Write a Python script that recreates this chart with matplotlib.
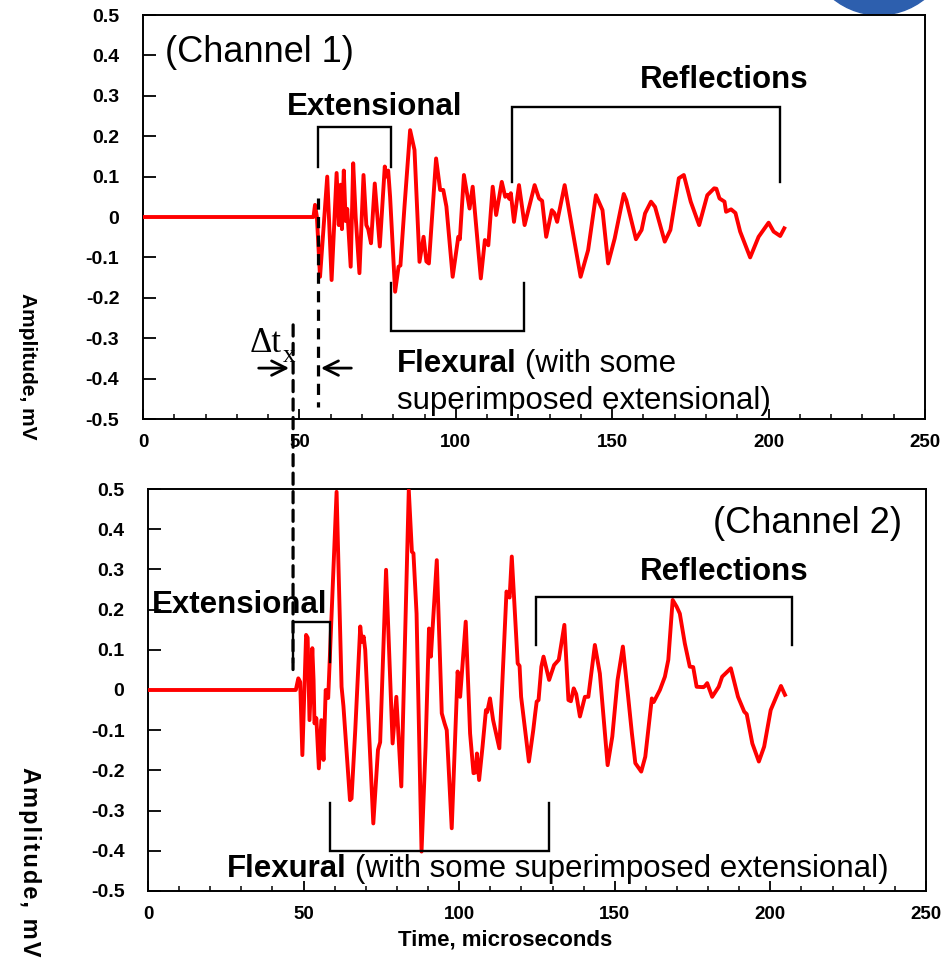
import matplotlib
matplotlib.use('Agg')
import matplotlib.pyplot as plt
from matplotlib.patches import ConnectionPatch, Ellipse
from matplotlib.ticker import MultipleLocator

plt.rcParams['font.family'] = ['Liberation Sans', 'DejaVu Sans']

# Channel 1 waveform: time (microseconds) and amplitude (mV)
t1 = [0, 54.5, 55.0, 55.6, 56.6, 58.9, 60.3, 61.9, 62.6, 63.2, 63.6, 64.2, 64.8, 65.3,
      66.4, 67.2, 68.0, 69.2, 70.5, 71.4, 72.0, 72.9, 74.1, 75.7, 77.3, 77.8, 78.4, 79.0,
      80.6, 81.7, 82.3, 83.6, 85.4, 86.8, 88.4, 89.7, 90.6, 91.4, 93.7, 95.0, 96.0, 97.0,
      99.0, 100.8, 101.3, 102.6, 104.4, 105.4, 108.0, 109.3, 110.4, 111.8, 112.9, 114.7,
      115.8, 116.6, 117.1, 117.6, 118.6, 120.2, 122.0, 125.2, 126.6, 127.6, 128.9, 130.7,
      131.5, 132.4, 134.8, 139.9, 142.3, 144.8, 146.9, 148.7, 150.8, 153.7, 154.5, 157.6,
      159.4, 160.5, 162.4, 163.7, 166.8, 168.6, 171.3, 172.9, 175.1, 177.8, 180.4, 182.6,
      183.3, 184.3, 185.9, 186.4, 188.0, 189.4, 190.9, 194.1, 196.8, 200.0, 201.6, 203.7,
      205.0]
a1 = [0, 0, 0.03, 0.0, -0.148, 0.10, -0.156, 0.109, -0.02, 0.08, -0.03, 0.115, -0.01, 0.02,
      -0.123, 0.133, 0.0, -0.139, 0.104, -0.02, -0.03, -0.065, 0.083, -0.073, 0.125, 0.10, 0.115, 0.05,
      -0.185, -0.123, -0.12, 0.026, 0.215, 0.166, -0.111, -0.049, -0.11, -0.115, 0.145, 0.067, 0.067, 0.026,
      -0.148, -0.049, -0.055, 0.104, 0.021, 0.075, -0.152, -0.057, -0.07, 0.075, 0.005, 0.087,
      0.05, 0.055, 0.045, 0.059, -0.012, 0.079, -0.02, 0.079, 0.046, 0.04, -0.049, 0.017,
      0.01, -0.012, 0.079, -0.148, -0.082, 0.054, 0.017, -0.115, -0.053, 0.057, 0.042, -0.055,
      -0.032, 0.009, 0.038, 0.025, -0.061, -0.032, 0.096, 0.104, 0.038, -0.02, 0.054, 0.071,
      0.07, 0.046, 0.038, 0.013, 0.019, 0.01, -0.036, -0.1, -0.049, -0.014, -0.036, -0.047,
      -0.028]

# Channel 2 waveform
t2 = [0, 47.5, 48.3, 48.9, 49.6, 50.8, 51.3, 51.9, 52.8, 53.2, 53.5, 54.1, 54.9, 55.7, 56.4,
      57.1, 57.9, 60.6, 62.2, 62.8, 64.9, 65.4, 66.6, 68.2, 68.7, 69.3, 69.8, 72.4, 73.9, 74.6,
      76.5, 78.6, 79.8, 81.4, 83.8, 84.8, 85.3, 86.3, 87.9, 89.2, 90.3, 90.9, 92.8, 94.4, 95.3,
      96.0, 97.6, 99.5, 100.3, 102.1, 103.5, 104.6, 105.3, 105.7, 106.4, 107.5, 108.6, 109.0,
      109.9, 110.9, 112.9, 115.2, 116.2, 116.9, 118.8, 119.4, 119.9, 122.4, 123.8, 124.4, 124.9,
      125.5, 126.4, 127.1, 128.9, 130.5, 132.0, 133.8, 135.1, 135.9, 136.8, 137.6, 138.8, 140.4,
      141.5, 143.6, 145.2, 147.7, 149.2, 150.9, 152.6, 154.3, 155.5, 156.6, 158.5, 159.8, 161.9,
      162.5, 164.5, 166.1, 167.2, 168.6, 169.9, 170.9, 172.5, 174.1, 175.2, 176.3, 178.5, 179.0,
      179.7, 181.3, 183.4, 184.5, 187.3, 189.6, 191.6, 192.4, 194.2, 196.3, 198.0, 200.1, 201.9,
      203.4, 204.7]
a2 = [0, 0, 0.029, 0.02, -0.162, 0.137, 0.13, -0.075, 0.104, 0.025, -0.083, -0.07, -0.195, -0.075, -0.174,
      0.0, -0.02, 0.493, 0.008, -0.04, -0.274, -0.27, -0.1, 0.158, 0.12, 0.133, 0.10, -0.332, -0.149, -0.13,
      0.299, -0.133, -0.017, -0.24, 0.497, 0.344, 0.34, 0.19, -0.402, -0.141, 0.153, 0.083, 0.323, -0.058, -0.083,
      -0.1, -0.344, 0.046, -0.017, 0.17, -0.108, -0.207, -0.205, -0.158, -0.224, -0.141, -0.05, -0.055,
      -0.021, -0.075, -0.145, 0.245, 0.23, 0.332, 0.066, 0.06, -0.017, -0.178, -0.1, -0.06, -0.029,
      -0.025, 0.058, 0.083, 0.025, 0.062, 0.075, 0.162, -0.025, -0.028, 0.004, -0.01, -0.066, -0.017,
      -0.017, 0.112, 0.041, -0.187, -0.116, 0.025, 0.108, -0.017, -0.108, -0.182, -0.203, -0.166, -0.021,
      -0.03, 0.0, 0.033, 0.075, 0.224, 0.207, 0.19, 0.116, 0.058, 0.057, 0.008, 0.007, 0.01,
      0.017, -0.017, 0.008, 0.033, 0.054, -0.017, -0.054, -0.06, -0.133, -0.178, -0.141, -0.05, -0.017,
      0.010, -0.012]

x_ticks = [0, 50, 100, 150, 200, 250]
y_ticks = [0.5, 0.4, 0.3, 0.2, 0.1, 0, -0.1, -0.2, -0.3, -0.4, -0.5]
y_tick_labels = ['0.5', '0.4', '0.3', '0.2', '0.1', '0', '-0.1', '-0.2', '-0.3', '-0.4', '-0.5']

fig = plt.figure(figsize=(9.5, 9.63), dpi=100)

# blue logo peeking in at the top right
fig.add_artist(Ellipse((879 / 950, 1 + 63 / 963), 150 / 950, 156 / 963,
                       transform=fig.transFigure, color='#2d5fae', zorder=0))

ax1 = fig.add_axes([0.1505, 0.5649, 0.8232, 0.4195])
ax2 = fig.add_axes([0.1558, 0.0748, 0.8189, 0.4174])


def style_axes(ax):
    ax.set_xlim(0, 250)
    ax.set_ylim(-0.5, 0.5)
    ax.set_xticks(x_ticks)
    ax.xaxis.set_minor_locator(MultipleLocator(10))
    ax.set_yticks(y_ticks)
    ax.set_yticklabels(y_tick_labels)
    ax.tick_params(axis='x', which='major', direction='in', length=7, width=1.3, pad=10.5, labelsize=13.5)
    ax.tick_params(axis='x', which='minor', direction='in', length=3.5, width=1.1)
    ax.tick_params(axis='y', which='major', direction='in', length=9, width=1.3, pad=17, labelsize=14)
    for lab in ax.get_xticklabels() + ax.get_yticklabels():
        lab.set_fontweight('bold')
    for s in ax.spines.values():
        s.set_linewidth(1.4)


def bracket(ax, x0, x1, y_bar, y_leg):
    ax.plot([x0, x0, x1, x1], [y_leg, y_bar, y_bar, y_leg], color='black', lw=1.7,
            solid_joinstyle='miter', clip_on=False, zorder=4)


style_axes(ax1)
style_axes(ax2)

ax1.plot(t1, a1, color='red', lw=2.8, solid_joinstyle='round', zorder=3)
ax2.plot(t2, a2, color='red', lw=2.8, solid_joinstyle='round', zorder=3)

big = 22.5
dash = (0, (3.5, 2.3))

# ---- Channel 1 annotations
ax1.text(7.0, 0.384, '(Channel 1)', fontsize=26, va='baseline')
ax1.text(46.0, 0.252, 'Extensional', fontsize=big, fontweight='bold', va='baseline')
ax1.text(158.9, 0.319, 'Reflections', fontsize=big, fontweight='bold', va='baseline')
f1 = ax1.text(81.2, -0.384, 'Flexural', fontsize=big, fontweight='bold', va='baseline')
ax1.annotate('(with some', xy=(1, 0), xycoords=f1, xytext=(6, 0), textcoords='offset points',
             fontsize=big, va='bottom')
ax1.text(81.2, -0.475, 'superimposed extensional)', fontsize=big, va='baseline')

bracket(ax1, 56.0, 79.3, 0.223, 0.124)
bracket(ax1, 118.0, 203.6, 0.272, 0.087)
bracket(ax1, 79.3, 121.8, -0.282, -0.163)

# second arrival marker and delta t arrows
ax1.plot([56.0, 56.0], [0.047, -0.47], color='black', lw=2.3, ls=dash, zorder=4)
ax1.annotate('', xy=(47.6, -0.374), xytext=(36.1, -0.374),
             arrowprops=dict(arrowstyle='->', lw=2.0, color='black', mutation_scale=26))
ax1.annotate('', xy=(56.0, -0.374), xytext=(67.5, -0.374),
             arrowprops=dict(arrowstyle='->', lw=2.0, color='black', mutation_scale=26))
ax1.text(34.2, -0.334, '\u0394t', family=['Liberation Serif', 'DejaVu Serif'], fontsize=25, va='baseline')
ax1.text(44.8, -0.359, 'x', family=['Liberation Serif', 'DejaVu Serif'], fontsize=18, va='baseline')

# first arrival dashed line running through both panels
con = ConnectionPatch(xyA=(48.0, -0.267), coordsA=ax1.transData,
                      xyB=(46.6, 0.045), coordsB=ax2.transData,
                      color='black', lw=2.3, ls=dash, zorder=5)
fig.add_artist(con)

# ---- Channel 2 annotations
ax2.text(211.8, 0.391, '(Channel 2)', fontsize=26, ha='center', va='baseline')
ax2.text(158.1, 0.274, 'Reflections', fontsize=big, fontweight='bold', va='baseline')
ax2.text(1.3, 0.192, 'Extensional', fontsize=big, fontweight='bold', va='baseline', zorder=2)
f2 = ax2.text(25.4, -0.465, 'Flexural', fontsize=big, fontweight='bold', va='baseline')
ax2.annotate('(with some superimposed extensional)', xy=(1, 0), xycoords=f2, xytext=(6, 0),
             textcoords='offset points', fontsize=big, va='bottom')

bracket(ax2, 124.7, 207.0, 0.231, 0.112)
bracket(ax2, 46.6, 58.5, 0.169, 0.07)
bracket(ax2, 58.5, 128.9, -0.40, -0.281)

# axis labels (letters spread out, as in the source figure)
fig.text(27 / 950, 1 - 293 / 963, 'Amplitude, mV', rotation=270, ha='center', va='top',
         fontsize=15, fontweight='bold')
fig.text(29 / 950, 1 - 767 / 963, '\u200a'.join('Amplitude, mV'), rotation=270, ha='center',
         va='top', fontsize=17, fontweight='bold')
fig.text(505 / 950, 1 - 940 / 963, 'Time, microseconds', ha='center', va='center',
         fontsize=16, fontweight='bold')

fig.savefig('out.png', dpi=100)
